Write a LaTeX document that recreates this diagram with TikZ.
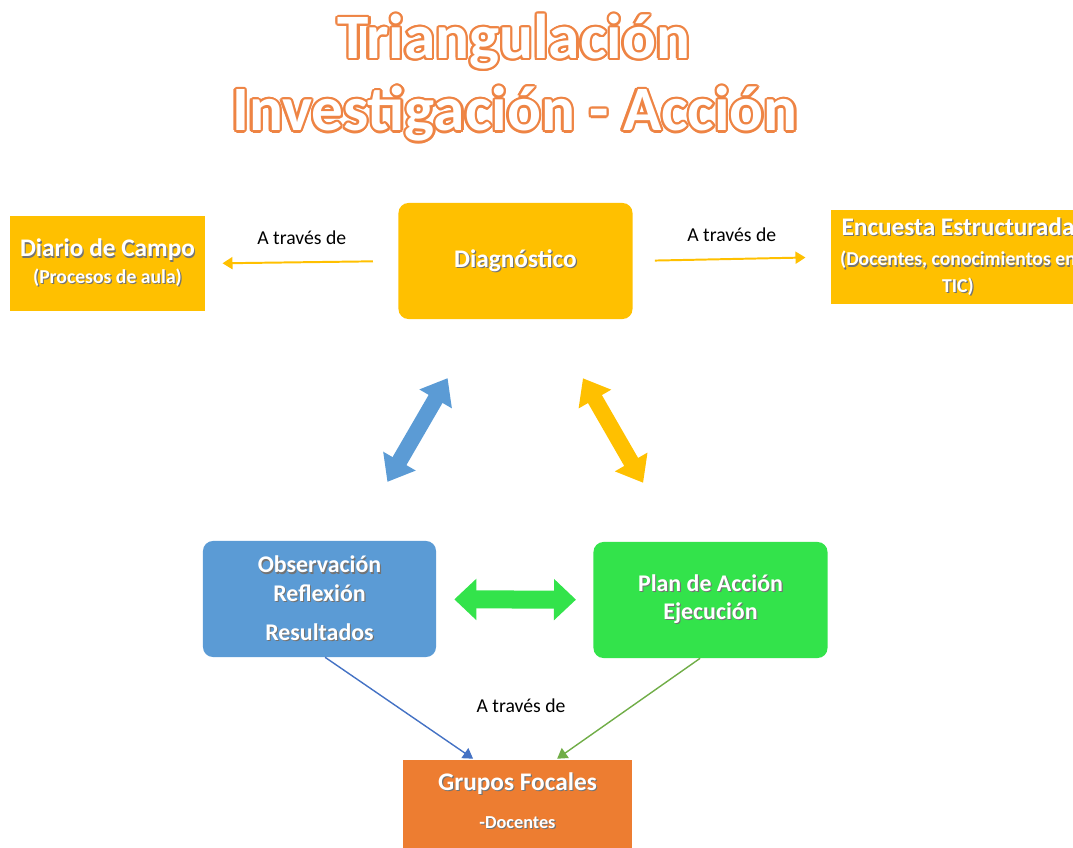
\documentclass[tikz,border=0pt]{standalone}
\usepackage{fontspec}
\setmainfont{Carlito}
\usepackage{contour}
\usepackage{tikz}
\usetikzlibrary{arrows.meta, positioning}
\usepackage{xcolor}

\definecolor{gold}{HTML}{FFC000}
\definecolor{boxblue}{HTML}{5B9BD5}
\definecolor{boxgreen}{HTML}{33E34B}
\definecolor{boxorange}{HTML}{ED7D31}
\definecolor{titleorange}{HTML}{EE8444}
\definecolor{lineblue}{HTML}{4472C4}
\definecolor{linegreen}{HTML}{70AD47}
\contourlength{1.6pt}
\newcommand{\shtext}[1]{\leavevmode\rlap{\hspace{0.8pt}\raisebox{-0.8pt}{\color{black!55}#1}}#1}

\begin{document}
\begin{tikzpicture}[
      x=0.025cm, y=-0.025cm,
      box/.style={fill=gold, text=white, align=center, font=\bfseries\fontsize{18}{19}\selectfont, inner sep=0pt},
      roundbox/.style={box, rounded corners=0.25cm, minimum width=5.85cm, minimum height=2.9cm},
      thinarrow/.style={-{Triangle[width=0.3cm, length=0.25cm]}, line width=1.4pt},
      fatarrow/.style={{Triangle[width=0.9cm, length=0.6cm]}-{Triangle[width=0.9cm, length=0.6cm]}, line width=0.4cm},
      data/.style={midway, above=0.3cm, font=\fontsize{14}{16}\selectfont, text=black},
      heading/.style={font=\bfseries\fontsize{45}{48}\selectfont}
    ]
    \useasboundingbox (0,0) rectangle (1073,848);

    % Title
    \node[heading] (title) at (514,43) {\contour{titleorange}{\color{white}Triangulación}};
    \node[heading] (subtitle) at (515,115) {\contour{titleorange}{\color{white}Investigación - Acción}};

    % Nodes
    \node[roundbox] (diag) at (515.5,261) {\shtext{Diagnóstico}};

    \node[box, minimum width=4.875cm, minimum height=2.375cm] (diario) at (107.5,263.5) {\shtext{Diario de Campo}\\ {\fontsize{14}{17}\selectfont\shtext{(Procesos de aula)}}};

    \node[box, minimum width=6.35cm, minimum height=2.35cm] (encuesta) at (958,257) {\shtext{Encuesta Estructurada}\\[3pt] {\fontsize{14}{17}\selectfont\shtext{(Docentes, conocimientos en}}\\ {\fontsize{14}{17}\selectfont\shtext{TIC)}}};

    \node[roundbox, fill=boxblue, minimum width=5.825cm, font=\bfseries\fontsize{17}{20.5}\selectfont] (obs) at (319.5,599) {\shtext{Observación}\\ \shtext{Reflexión}\\[7pt] \shtext{Resultados}};

    \node[roundbox, fill=boxgreen, font=\bfseries\fontsize{17}{20}\selectfont] (plan) at (710.5,600) {\shtext{Plan de Acción}\\ \shtext{Ejecución}};

    \node[box, fill=boxorange, draw=boxorange!55, double=white, double distance=1pt, minimum width=5.775cm, minimum height=3cm] (grupos) at (517.5,819) {};
    \node[text=white, align=center, inner sep=0pt, font=\bfseries\fontsize{18}{19}\selectfont, below=0.35cm of grupos.north] (grtxt) {\shtext{Grupos Focales}\\[8pt] {\fontsize{13}{15}\selectfont\shtext{-Docentes}}};

    % Arrows
    \draw[thinarrow, gold, shorten <=0.63cm, shorten >=0.43cm] (diag.west) -- (diario.east) node[data] (via1) {A través de};
    \draw[thinarrow, gold, shorten <=0.55cm, shorten >=0.63cm] (diag.east) -- (encuesta.west) node[data] (via2) {A través de};

    \draw[fatarrow, boxblue, shorten <=1.7cm, shorten >=1.7cm] (obs) -- (diag);
    \draw[fatarrow, gold, shorten <=1.7cm, shorten >=1.7cm] (diag) -- (plan);
    \draw[{Triangle[width=1cm, length=0.55cm]}-{Triangle[width=1cm, length=0.55cm]}, line width=0.45cm, boxgreen, shorten <=0.45cm, shorten >=0.43cm] (obs) -- (plan);

    \draw[thinarrow, lineblue, line width=1pt] ([xshift=0.14cm]obs.south) -- ([xshift=-1.11cm]grupos.north);
    \draw[thinarrow, linegreen, line width=1pt] ([xshift=-0.26cm]plan.south) -- ([xshift=0.99cm]grupos.north);

    \node[font=\fontsize{14}{16}\selectfont] (via3) at (521,706) {A través de};

  \end{tikzpicture}
\end{document}
